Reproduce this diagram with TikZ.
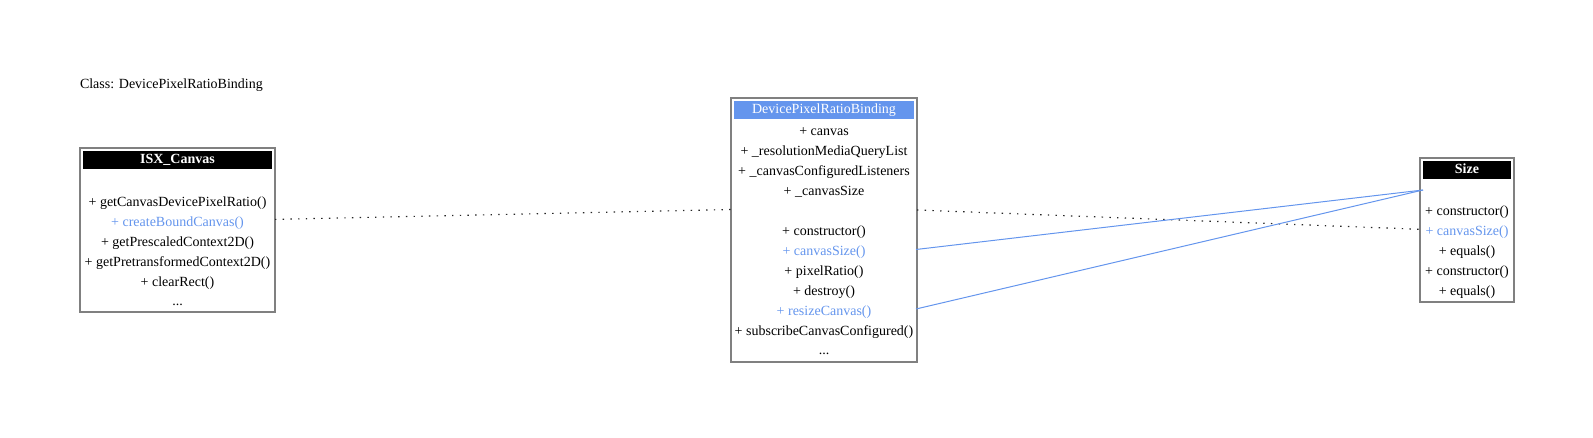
\documentclass[tikz,border=0pt]{standalone}
\usepackage{fontspec}
\setmainfont{Liberation Serif}
\usetikzlibrary{calc}
\definecolor{umlblue}{HTML}{6495ED}
\definecolor{bordergray}{HTML}{808080}
\begin{document}
\begin{tikzpicture}[x=1pt,y=-1pt,
  every node/.style={inner sep=0pt, outer sep=0pt, font=\fontsize{14}{16}\selectfont, text height=10pt, text depth=3pt},
  umlbox/.style={draw=bordergray, line width=2pt, anchor=north west},
  hdr/.style={anchor=north west, fill=black, text=white, minimum height=18pt, font=\fontsize{14}{16}\selectfont\bfseries},
  hdrblue/.style={hdr, fill=umlblue, font=\fontsize{14}{16}\selectfont},
  rowtxt/.style={text=black},
  hl/.style={text=umlblue},
  dep/.style={line width=1.2pt, dash pattern=on 1.4pt off 6.3pt, black!85},
  assoc/.style={umlblue, line width=1pt}]
\useasboundingbox (0,0) rectangle (1593,438);

% title
\node[anchor=west] (ttl) at (80,85.5) {Class: DevicePixelRatioBinding};

% ISX_Canvas
\node[umlbox, minimum width=195pt, minimum height=164pt] (isx) at (80,148) {};
\node[hdr, minimum width=189pt, text depth=2pt] (isxh) at (83,151) {ISX\_Canvas};
\coordinate (isxgap) at (177.5,181);
\node[rowtxt] (isx1) at (177.5,203) {+ getCanvasDevicePixelRatio()};
\node[hl]     (isx2) at (177.5,223) {+ createBoundCanvas()};
\node[rowtxt] (isx3) at (177.5,243) {+ getPrescaledContext2D()};
\node[rowtxt] (isx4) at (177.5,263) {+ getPretransformedContext2D()};
\node[rowtxt] (isx5) at (177.5,283) {+ clearRect()};
\node[rowtxt] (isx6) at (177.5,302.5) {...};

% DevicePixelRatioBinding
\node[umlbox, minimum width=186pt, minimum height=264pt] (dprb) at (731,98) {};
\node[hdrblue, minimum width=180pt, text depth=2pt] (dprbh) at (734,101) {DevicePixelRatioBinding};
\node[rowtxt] (dp1) at (824,132.3) {+ canvas};
\node[rowtxt] (dp2) at (824,152.3) {+ \_resolutionMediaQueryList};
\node[rowtxt] (dp3) at (824,172.3) {+ \_canvasConfiguredListeners};
\node[rowtxt] (dp4) at (824,192.3) {+ \_canvasSize};
\coordinate (dpgap) at (824,211);
\node[rowtxt] (dp5) at (824,232.3) {+ constructor()};
\node[hl]     (dp6) at (824,252.3) {+ canvasSize()};
\node[rowtxt] (dp7) at (824,272.3) {+ pixelRatio()};
\node[rowtxt] (dp8) at (824,292.3) {+ destroy()};
\node[hl]     (dp9) at (824,312.3) {+ resizeCanvas()};
\node[rowtxt] (dp10) at (824,332.3) {+ subscribeCanvasConfigured()};
\node[rowtxt] (dp11) at (824,351.5) {...};

% Size
\node[umlbox, minimum width=94pt, minimum height=144pt] (size) at (1420,158) {};
\node[hdr, minimum width=88pt, text depth=2pt] (sizeh) at (1423,161) {Size};
\coordinate (sizegap) at (1467,191);
\node[rowtxt] (sz1) at (1467,212.3) {+ constructor()};
\node[hl]     (sz2) at (1467,232.3) {+ canvasSize()};
\node[rowtxt] (sz3) at (1467,252.3) {+ equals()};
\node[rowtxt] (sz4) at (1467,272.3) {+ constructor()};
\node[rowtxt] (sz5) at (1467,292.3) {+ equals()};

% connectors
\draw[dep] ($(isx.east |- isx2)+(0,-3.6)$) -- ($(dprb.west |- dpgap)+(0,-1.5)$);
\draw[dep] ($(dprb.east |- dpgap)+(0,-1)$) -- ($(size.west |- sz2)+(0,-3)$);
\draw[assoc] ($(dprb.east |- dp6)+(-1,-2.8)$) -- ($(size.west |- sizegap)+(3,-1)$);
\draw[assoc] ($(dprb.east |- dp9)+(-1,-3.3)$) -- ($(size.west |- sizegap)+(3,-1)$);
\end{tikzpicture}
\end{document}
